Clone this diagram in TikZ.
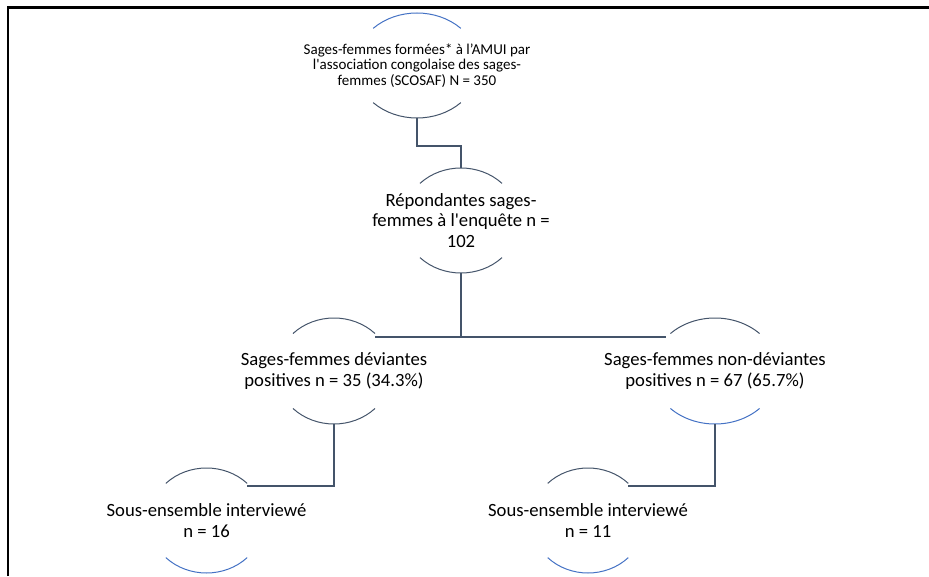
\documentclass[tikz,border=0pt]{standalone}
\usepackage{fontspec}
\setmainfont{Carlito}[Ligatures=TeXOff]
\usetikzlibrary{shapes.geometric}
\definecolor{slate}{RGB}{68,84,106}
\definecolor{accent}{RGB}{68,114,196}
\tikzset{
  box/.style={ellipse, inner sep=0pt, align=center, text=black},
  small/.style={font=\fontsize{11.25pt}{11.8pt}\selectfont},
  big/.style={font=\fontsize{14pt}{15.4pt}\selectfont},
  rim/.style={line width=0.75pt},
  link/.style={draw=slate, line width=0.95pt},
  frame/.style={draw=black, line width=1.6pt}
}
% draws the upper and lower arcs of an elliptical node
% #1 node, #2 x radius, #3 y radius, #4 top colour, #5 bottom colour
\newcommand{\halfrims}[5]{%
  \draw[rim, draw=#4] ([shift={(45:#2 and #3)}]#1.center)
    arc[start angle=45, end angle=135, x radius=#2, y radius=#3];
  \draw[rim, draw=#5] ([shift={(225:#2 and #3)}]#1.center)
    arc[start angle=225, end angle=315, x radius=#2, y radius=#3];
}
\begin{document}
\begin{tikzpicture}[x=0.75pt, y=0.75pt]
\useasboundingbox (0,0) rectangle (929,576);

% outer frame (top and left edges)
\draw[frame] (8,0) -- (8,568.5) -- (929,568.5);

% nodes
\node[box, small, minimum width=124*0.75pt, minimum height=105*0.75pt] (n1) at (417,510.5)
  {Sages-femmes formées* à l’AMUI par\\l'association congolaise des sages-\\femmes (SCOSAF) N = 350};
\node[box, big, minimum width=116*0.75pt, minimum height=105*0.75pt] (n2) at (461,355.5)
  {Répondantes sages-\\femmes à l'enquête n =\\102};
\node[box, big, minimum width=116*0.75pt, minimum height=106*0.75pt] (n3l) at (334,205)
  {Sages-femmes déviantes\\positives n = 35 (34.3\%)};
\node[box, big, minimum width=126*0.75pt, minimum height=106*0.75pt] (n3r) at (715,205)
  {Sages-femmes non-déviantes\\positives n = 67 (65.7\%)};
\node[box, big, minimum width=115*0.75pt, minimum height=105*0.75pt] (n4l) at (206.5,55.5)
  {Sous-ensemble interviewé\\n = 16};
\node[box, big, minimum width=114*0.75pt, minimum height=105*0.75pt] (n4r) at (588,55.5)
  {Sous-ensemble interviewé\\n = 11};

% arcs
\halfrims{n1}{62}{52.5}{accent}{slate}
\halfrims{n2}{58}{52.5}{slate}{slate}
\halfrims{n3l}{58}{53}{slate}{slate}
\halfrims{n3r}{63}{53}{slate}{accent}
\halfrims{n4l}{57.5}{52.5}{slate}{accent}
\halfrims{n4r}{57}{52.5}{slate}{accent}

% junction points
\coordinate (j1) at (417,430);
\coordinate (j2) at (461,239);
\coordinate (jl) at (375,239);
\coordinate (jr) at (666,239);
\coordinate (e4l) at (247,90);
\coordinate (e4r) at (628,90);

% connectors
\draw[link] (n1.south) -- (n1.south |- j1) -| (n2.north);
\draw[link] (n2.south) -- (j2);
\draw[link] (jl) -- (jr);
\draw[link] (n3l.south) |- (e4l);
\draw[link] (n3r.south) |- (e4r);
\end{tikzpicture}
\end{document}
